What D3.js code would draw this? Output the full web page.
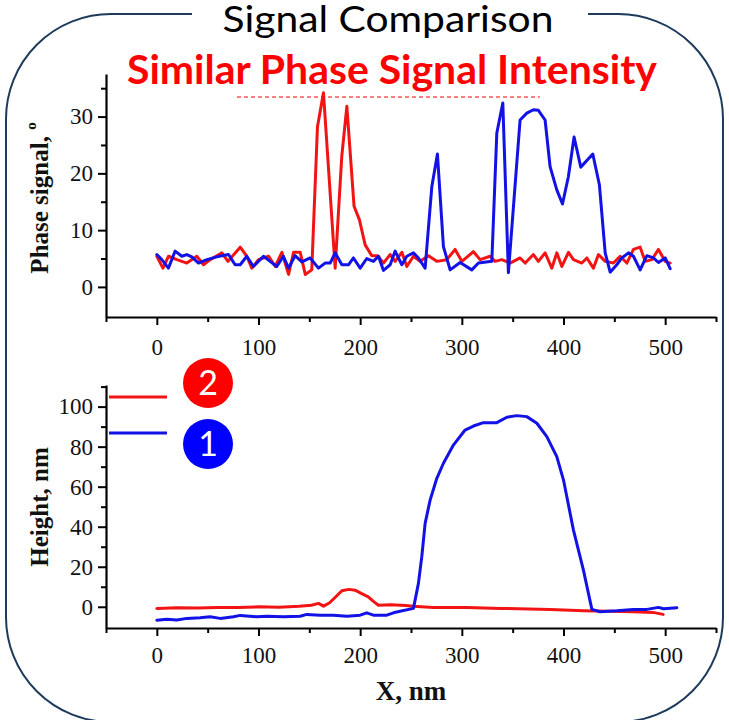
<!DOCTYPE html>
<html><head><meta charset="utf-8">
<script src="https://cdn.jsdelivr.net/npm/d3@7/dist/d3.min.js"></script>
<style>body{margin:0;background:#fff}svg{display:block}</style>
</head><body>
<svg id="c" width="729" height="720"></svg>
<script>
// ---------------- DATA ----------------
const xTicksMajor = [0, 100, 200, 300, 400, 500];
const xTicksMinor = [-50, 50, 150, 250, 350, 450, 550];
const phaseTicksMajor = [0, 10, 20, 30];
const phaseTicksMinor = [5, 15, 25, 35];
const heightTicksMajor = [0, 20, 40, 60, 80, 100];
const heightTicksMinor = [10, 30, 50, 70, 90, 110];

// Phase signal, sample 2 (red)
const phaseRedX = [0,6,11.5,19.7,29.5,39.3,45.9,52.5,64,70,82,88.5,93.4,100,110,116.5,123,129.6,134.5,141,146,152.4,158,163.9,175.4,181.9,186.9,194,199.3,204.9,211.4,217.3,222.9,229.5,234.4,241,245.9,252.4,259,267.2,275.4,285.2,293.4,300,311.4,318,327.8,332.7,339.3,347.5,357.3,362.3,370.4,375.3,381.9,388.5,393.4,398.4,404.9,409.8,418,423,429.4,434.4,441,449.1,455.7,462.3,468.8,475.4,480.3,486.9,493.4,500,504.9];
const phaseRedY = [5.4,3.3,5.4,4.8,4.2,5.4,3.9,4.8,6.0,4.5,7.0,5.4,3.3,4.8,5.4,3.6,6.1,2.2,6.1,6.1,2.2,3.0,28.2,34.2,3.3,23.0,31.8,14.2,11.8,7.4,5.5,5.5,4.2,5.7,4.5,6.1,3.6,5.4,4.5,5.5,4.5,4.8,6.6,4.5,6.2,4.8,5.4,4.5,4.8,4.2,5.1,4.2,5.7,4.5,6.0,3.3,6.0,3.6,6.1,4.8,4.2,5.1,3.3,5.7,4.5,4.2,5.4,4.2,6.6,7.0,4.5,4.8,6.6,4.5,4.2];
// Phase signal, sample 1 (blue)
const phaseBlueX = [0,4.9,11.4,18,24.6,29.5,34.4,41,49.2,59,70.5,77,82,88.5,95,104.9,111.4,118,124.5,129.5,136,142.6,150.8,159,165.5,170.5,175.4,182,188.5,193.4,200,206.5,213,218,222.9,229.5,234.4,241,245.9,252.4,257.3,263.9,270.5,276,281.9,288.5,298.3,309.8,316.3,329.5,334.4,340.3,345.8,357.3,363.9,370.4,375.3,381.9,386.8,393.4,399,404.8,410.4,417,428.8,435.3,441,445.9,452.4,457.4,463.9,468.8,475.4,482,488.5,493.4,500,504.9];
const phaseBlueY = [5.7,4.8,3.3,6.3,5.4,5.7,5.3,4.2,4.8,5.3,5.7,3.9,3.9,5.4,3.6,5.4,4.5,3.6,5.4,3.3,5.5,4.4,5.1,3.3,4.2,4.2,6.0,3.9,3.9,5.1,3.3,5.0,4.5,5.4,2.9,3.9,6.3,3.9,5.4,6.0,5.1,3.3,17.7,23.4,7.1,3.0,4.3,3.0,4.2,4.5,27.1,32.4,2.5,29.4,30.6,31.2,31.1,29.4,21.2,17.1,14.6,19.4,26.4,21.1,23.4,18.0,6.0,2.6,3.9,5.1,6.0,5.4,3.0,5.5,5.1,4.3,5.1,3.2];

// Height, sample 2 (red)
const heightRedX = [0,20,40,60,80,100,120,140,152,159,164,170,176,182,189,195,201,208,213,218,230,245,252,272,305,338,387,420,469,488,498];
const heightRedY = [-0.8,-0.5,-0.6,-0.3,-0.4,0.0,-0.2,0.3,0.8,1.7,0.3,2.0,5.0,8.0,8.7,8.3,6.7,5.0,2.7,0.8,1.0,0.6,0.3,-0.3,-0.3,-0.8,-1.3,-2.0,-2.5,-2.8,-3.8];
// Height, sample 1 (blue)
const heightBlueX = [0,9.8,19.7,29.5,42.6,52.4,62.3,75.4,82,98.4,108.2,124.5,141,147.5,160.6,173.7,186.9,200,206.5,213,226.2,232.7,239.3,252.4,257.3,260.6,263.9,268.8,275.4,281.9,291.7,303.2,311.4,321.2,334.4,344.3,354.1,363.9,373.8,383.6,393.4,400,409.8,419.6,427.9,436,452.4,468.8,482,493.4,498.3,511.5];
const heightBlueY = [-6.7,-6.2,-6.6,-5.8,-5.5,-5.0,-5.8,-5.0,-4.3,-5.0,-4.7,-5.0,-4.7,-3.8,-4.2,-4.2,-4.7,-4.2,-3.0,-4.2,-4.2,-3.0,-2.2,-0.8,11.7,25,41.7,53.3,64.2,71.7,80.8,88.3,90.3,92,92,94.7,95.5,95.0,91.7,85,75,63.3,38.3,18.3,-1.3,-2.5,-2.0,-1.3,-1.3,-0.3,-1.0,-0.5];

const legendLabels = ["2", "1"];
const titleText = "Signal Comparison";
const subtitleText = "Similar Phase Signal Intensity";

// ---------------- DRAW ----------------
const RED = "#f21414", BLUE = "#1212e6";
const svg = d3.select("#c");

// border
svg.append("rect").attr("x", 6).attr("y", 14).attr("width", 717).attr("height", 708)
  .attr("rx", 105).attr("ry", 105).attr("fill", "none").attr("stroke", "#1f3b5b").attr("stroke-width", 2);
svg.append("rect").attr("x", 192).attr("y", 4).attr("width", 396).attr("height", 20).attr("fill", "#fff");

function fitText(sel, cx, y, targetW) {
  const w = sel.node().getComputedTextLength();
  sel.attr("x", 0).attr("y", 0).attr("transform", `translate(${cx},${y}) scale(${targetW / w},1)`);
}

const t1 = svg.append("text").attr("text-anchor", "middle").attr("font-family", "Lato, 'Open Sans', sans-serif")
  .attr("font-size", 37).attr("fill", "#000").text(titleText);
fitText(t1, 388, 32, 331);
const t2 = svg.append("text").attr("text-anchor", "middle").attr("font-family", "Lato, 'Open Sans', sans-serif")
  .attr("font-weight", "bold").attr("font-size", 40).attr("fill", "#ff0000").text(subtitleText);
fitText(t2, 392, 84, 530);

const x = d3.scaleLinear([-50, 550], [106, 716]);
const yP = d3.scaleLinear([-5.3, 37.5], [317, 74]);
const yH = d3.scaleLinear([-10.6, 110.8], [628, 385]);

const serif = "'Liberation Serif', 'DejaVu Serif', serif";

function drawAxes(yScale, majors, minors, axisY, labelOffset) {
  const g = svg.append("g");
  g.append("g").attr("transform", `translate(0,${axisY})`)
    .call(d3.axisBottom(x).tickValues(xTicksMajor).tickSize(8).tickSizeOuter(0).tickPadding(labelOffset));
  const xm = g.append("g").attr("transform", `translate(0,${axisY})`)
    .call(d3.axisBottom(x).tickValues(xTicksMinor).tickSize(5).tickSizeOuter(0).tickFormat(""));
  xm.select(".domain").remove();
  g.append("g").attr("transform", `translate(106,0)`)
    .call(d3.axisLeft(yScale).tickValues(majors).tickSize(8).tickSizeOuter(0).tickPadding(5));
  const ym = g.append("g").attr("transform", `translate(106,0)`)
    .call(d3.axisLeft(yScale).tickValues(minors).tickSize(5).tickSizeOuter(0).tickFormat(""));
  ym.select(".domain").remove();
  g.selectAll(".domain").attr("stroke", "#000").attr("stroke-width", 2.2);
  g.selectAll(".tick line").attr("stroke", "#000").attr("stroke-width", 2);
  g.selectAll(".tick text").attr("font-family", serif).attr("font-size", 23).attr("fill", "#111");
}
drawAxes(yP, phaseTicksMajor, phaseTicksMinor, 317, 14);
drawAxes(yH, heightTicksMajor, heightTicksMinor, 628, 11);

function drawLine(xs, ys, yScale, color, w) {
  const pts = xs.map((v, i) => [v, ys[i]]);
  svg.append("path").datum(pts)
    .attr("d", d3.line().x(d => x(d[0])).y(d => yScale(d[1])))
    .attr("fill", "none").attr("stroke", color).attr("stroke-width", w)
    .attr("stroke-linejoin", "round").attr("stroke-linecap", "round");
}
drawLine(phaseRedX, phaseRedY, yP, RED, 3);
drawLine(phaseBlueX, phaseBlueY, yP, BLUE, 3);
drawLine(heightRedX, heightRedY, yH, RED, 3);
drawLine(heightBlueX, heightBlueY, yH, BLUE, 3);

// dashed reference line
svg.append("line").attr("x1", 237).attr("x2", 540).attr("y1", 97).attr("y2", 97)
  .attr("stroke", "#ff0000").attr("stroke-width", 1).attr("stroke-dasharray", "4,3");

// axis titles
const pt = svg.append("text").attr("text-anchor", "middle").attr("font-family", serif)
  .attr("font-weight", "bold").attr("font-size", 25).attr("fill", "#111")
  .attr("transform", "translate(48,198) rotate(-90)");
pt.append("tspan").text("Phase signal, ");
pt.append("tspan").attr("font-size", 15).attr("dy", -12).text("o");
svg.append("text").attr("text-anchor", "middle").attr("font-family", serif)
  .attr("font-weight", "bold").attr("font-size", 25).attr("fill", "#111")
  .attr("transform", "translate(48,507) rotate(-90)").text("Height, nm");
svg.append("text").attr("text-anchor", "middle").attr("font-family", serif)
  .attr("font-weight", "bold").attr("font-size", 27).attr("fill", "#111")
  .attr("x", 411).attr("y", 700).text("X, nm");

// legend
const legColors = [RED, BLUE];
const legY = [397, 433];
const circY = [383, 444];
legendLabels.forEach((lab, i) => {
  svg.append("line").attr("x1", 109).attr("x2", 167).attr("y1", legY[i]).attr("y2", legY[i])
    .attr("stroke", legColors[i]).attr("stroke-width", 3);
  svg.append("circle").attr("cx", 208).attr("cy", circY[i]).attr("r", 25)
    .attr("fill", i === 0 ? "#ff0000" : "#0000ff");
  svg.append("text").attr("x", 208).attr("y", circY[i] + 12).attr("text-anchor", "middle")
    .attr("font-family", "Lato, 'Open Sans', sans-serif").attr("font-size", 34).attr("fill", "#fff").text(lab);
});
</script>
</body></html>
